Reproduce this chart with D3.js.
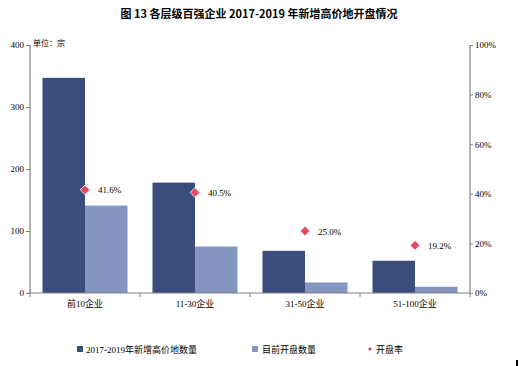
<!DOCTYPE html>
<html><head><meta charset="utf-8">
<script src="https://cdn.jsdelivr.net/npm/d3@7"></script>
<style>body{margin:0;background:#fff}svg{display:block}text{font-family:"Liberation Serif","Noto Sans CJK SC",serif}</style>
</head><body>
<script>
const categories = ["前10企业","11-30企业","31-50企业","51-100企业"];
const newLand = [347, 178, 68, 52];
const opened = [141, 75, 17, 10];
const openRate = [41.6, 40.5, 25.0, 19.2];
const leftTicks = [0,100,200,300,400];
const rightTicks = [0,20,40,60,80,100];
const seriesNames = ["2017-2019年新增高价地数量","目前开盘数量","开盘率"];
const colors = {dark:"#3b4d7c", light:"#8597c0", rate:"#e9465f", axis:"#808080"};

const W=519,H=366;
const svg=d3.select("body").append("svg").attr("width",W).attr("height",H);
const x0=30,x1=470,yTop=45,yBot=293;
const x=d3.scaleBand().domain(categories).range([x0,x1]).paddingInner(0).paddingOuter(0);
const xs=d3.scaleBand().domain([0,1]).range([0,x.bandwidth()]).paddingOuter(0.294).paddingInner(0);
const yL=d3.scaleLinear().domain([0,400]).range([yBot,yTop]);
const yR=d3.scaleLinear().domain([0,100]).range([yBot,yTop]);

svg.append("text").attr("x",259).attr("y",18).attr("text-anchor","middle")
  .attr("font-size",11).attr("font-weight","bold").style("font-family","'Noto Sans CJK SC',sans-serif")
  .text("图 13 各层级百强企业 2017-2019 年新增高价地开盘情况");

// bars
const g=svg.append("g");
categories.forEach((c,i)=>{
  [newLand[i],opened[i]].forEach((v,j)=>{
    g.append("rect").attr("x",x(c)+xs(j)).attr("width",xs.bandwidth())
      .attr("y",yL(v)).attr("height",yBot-yL(v)).attr("fill",j?colors.light:colors.dark);
  });
});

// axes
const axL=svg.append("g").attr("transform",`translate(${x0},0)`)
  .call(d3.axisLeft(yL).tickValues(leftTicks).tickSize(4).tickPadding(2));
const axR=svg.append("g").attr("transform",`translate(${x1},0)`)
  .call(d3.axisRight(yR).tickValues(rightTicks).tickSize(3).tickPadding(2).tickFormat(d=>d+"%"));
const axB=svg.append("g").attr("transform",`translate(0,${yBot})`)
  .call(d3.axisBottom(x).tickSize(0).tickPadding(8));
// category boundary ticks
const bounds=categories.map(c=>x(c)).concat([x1]);
svg.append("g").selectAll("line").data(bounds).join("line")
  .attr("x1",d=>d).attr("x2",d=>d).attr("y1",yBot).attr("y2",yBot+4).attr("stroke",colors.axis);
[axL,axR,axB].forEach(a=>{
  a.selectAll("path").attr("stroke",colors.axis).attr("stroke-width",1.2);
  a.selectAll("line").attr("stroke",colors.axis);
  a.selectAll("text").attr("font-size",9).attr("fill","#000")
   .style("font-family","'Liberation Serif','Noto Sans CJK SC',serif");
});
axB.selectAll("path").attr("d",`M${x0-2},0H${x1}`);
axL.selectAll("path").attr("d",`M0,${yBot}V${yTop}`);
axR.selectAll("path").attr("d",`M0,${yBot}V${yTop}`);

svg.append("text").attr("x",33).attr("y",46).attr("font-size",8)
  .style("font-family","'Noto Sans CJK SC',sans-serif").text("单位：宗");

// rate markers
const diamond=d3.symbol().type(d3.symbolDiamond2).size(60);
categories.forEach((c,i)=>{
  const cx=x(c)+x.bandwidth()/2, cy=yR(openRate[i]);
  svg.append("path").attr("d",diamond).attr("transform",`translate(${cx},${cy})`)
    .attr("fill",colors.rate).attr("stroke","#fff").attr("stroke-width",0.8);
  svg.append("text").attr("x",cx+13).attr("y",cy+3.5).attr("font-size",9).text(openRate[i].toFixed(1)+"%");
});

// legend
const ly=350;
svg.append("rect").attr("x",77).attr("y",ly-4).attr("width",6).attr("height",6).attr("fill",colors.dark);
svg.append("text").attr("x",86).attr("y",ly+3).attr("font-size",9).text(seriesNames[0]);
svg.append("rect").attr("x",252).attr("y",ly-4).attr("width",6).attr("height",6).attr("fill",colors.light);
svg.append("text").attr("x",262).attr("y",ly+3).attr("font-size",9).text(seriesNames[1]);
svg.append("path").attr("d",d3.symbol().type(d3.symbolDiamond2).size(10)).attr("transform",`translate(370,${ly-1})`).attr("fill",colors.rate);
svg.append("text").attr("x",376).attr("y",ly+3).attr("font-size",9).text(seriesNames[2]);

svg.append("rect").attr("x",516).attr("y",360).attr("width",2).attr("height",6).attr("fill","#000");
</script>
</body></html>
